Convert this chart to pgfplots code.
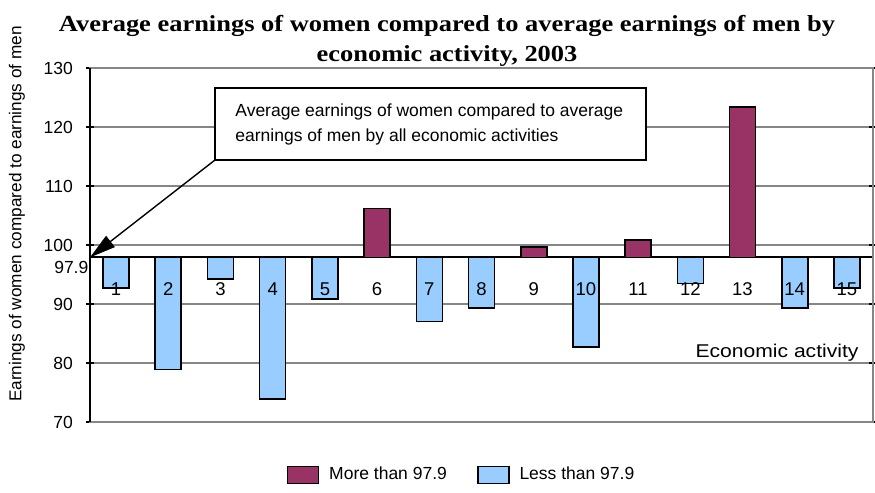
\documentclass[border=0pt]{standalone}
\usepackage{fontspec}
\setmainfont{Liberation Sans}
\newfontfamily\titlefont[FakeStretch=1.15]{Liberation Serif}
\newfontfamily\wideSans[FakeStretch=1.14]{Liberation Sans}
\usepackage{pgfplots}
\pgfplotsset{compat=1.18}
\usetikzlibrary{arrows.meta}
\definecolor{maroon}{HTML}{993366}
\definecolor{lightblue}{HTML}{99CCFF}
\definecolor{gridgray}{HTML}{868686}
\begin{document}
\begin{tikzpicture}
\begin{axis}[
  set layers,
  at={(0,0)}, anchor=south west,
  x=26.1pt, y=2.95pt,
  xmin=0.5, xmax=15.5, ymin=70, ymax=130,
  y coord trafo/.code={\pgfmathparse{#1-97.9}},
  y coord inv trafo/.code={\pgfmathparse{#1+97.9}},
  ybar, bar width=13pt,
  /pgf/number format/assume math mode=true,
  every tick label/.append style={font=\fontsize{8.75}{10}\selectfont},
  ytick={70,80,90,100,110,120,130},
  yticklabels={70,80,90,100,110,120,130},
  yticklabel style={xshift=-3pt},
  ymajorgrids,
  major grid style={gridgray, line width=0.6pt},
  extra y ticks={97.9},
  extra y tick labels={97.9},
  extra y tick style={grid=major, major grid style={black, line width=1pt},
    yticklabel style={xshift=7.7pt, yshift=-5pt}, tick style={draw=none}},
  xtick={1,...,15},
  xticklabels={1,2,3,4,5,6,7,8,9,10,11,12,13,14,15},
  xticklabel style={anchor=center, yshift=68.5pt, font=\fontsize{9.25}{10}\selectfont,
    /pgfplots/on layer=axis foreground},
  xtick style={draw=none},
  tick align=center, major tick length=4pt,
  ytick style={black, line width=0.6pt},
  axis line style={gridgray, line width=0.6pt},
  ylabel={Earnings of women compared to earnings of men},
  ylabel style={at={(axis description cs:-0.0932,0.5876)}, anchor=center, inner sep=0pt,
    font=\fontsize{8.6}{10}\selectfont},
  xlabel={Economic activity},
  xlabel style={at={(axis description cs:0.982,0.1836)}, anchor=base east, inner sep=0pt,
    font=\wideSans\fontsize{9.25}{11}\selectfont},
  title={Average earnings of women compared to average earnings of men by\\economic activity, 2003},
  title style={at={(axis description cs:0.456,1)}, anchor=south, inner sep=0pt, yshift=-5.5pt,
    align=center, font=\titlefont\bfseries\fontsize{11.5}{15}\selectfont},
  legend columns=2,
  legend style={at={(axis description cs:0.4757,-0.1497)}, anchor=center, draw=none, fill=none,
    font=\fontsize{8.75}{10}\selectfont,
    /tikz/every odd column/.style={column sep=3pt},
    /tikz/every even column/.style={column sep=13pt}},
  legend image code/.code={\draw[#1, line width=0.8pt] (0pt,-4.25pt) rectangle (15.5pt,4.25pt);},
]
\addplot[fill=maroon, draw=black, line width=0.8pt, bar shift=0pt]
  coordinates {(6,106.2) (9,99.7) (11,100.8) (13,123.4)};
\addlegendentry{More than 97.9}
\addplot[fill=lightblue, draw=black, line width=0.8pt, bar shift=0pt]
  coordinates {(1,92.7) (2,78.9) (3,94.2) (4,73.9) (5,90.8) (7,87.0) (8,89.3)
               (10,82.7) (12,93.5) (14,89.3) (15,92.7)};
\addlegendentry{Less than 97.9}
\end{axis}
\draw[black, line width=0.7pt] (0,0) -- (0,177pt);
\draw[line width=0.7pt, -{Triangle[length=13pt,width=7pt]}] (62.5pt,131pt) -- (0pt,82.3pt);
\draw[line width=0.7pt, fill=white] (62.5pt,131pt) rectangle (278pt,167pt);
\node[anchor=west, align=left, inner sep=0pt, font=\fontsize{8.75}{12.5}\selectfont] at (72.5pt,149pt)
  {Average earnings of women compared to average\\earnings of men by all economic activities};
\pgfresetboundingbox
\path[use as bounding box] (-45pt,-35.5pt) rectangle (392.5pt,211pt);
\end{tikzpicture}
\end{document}
